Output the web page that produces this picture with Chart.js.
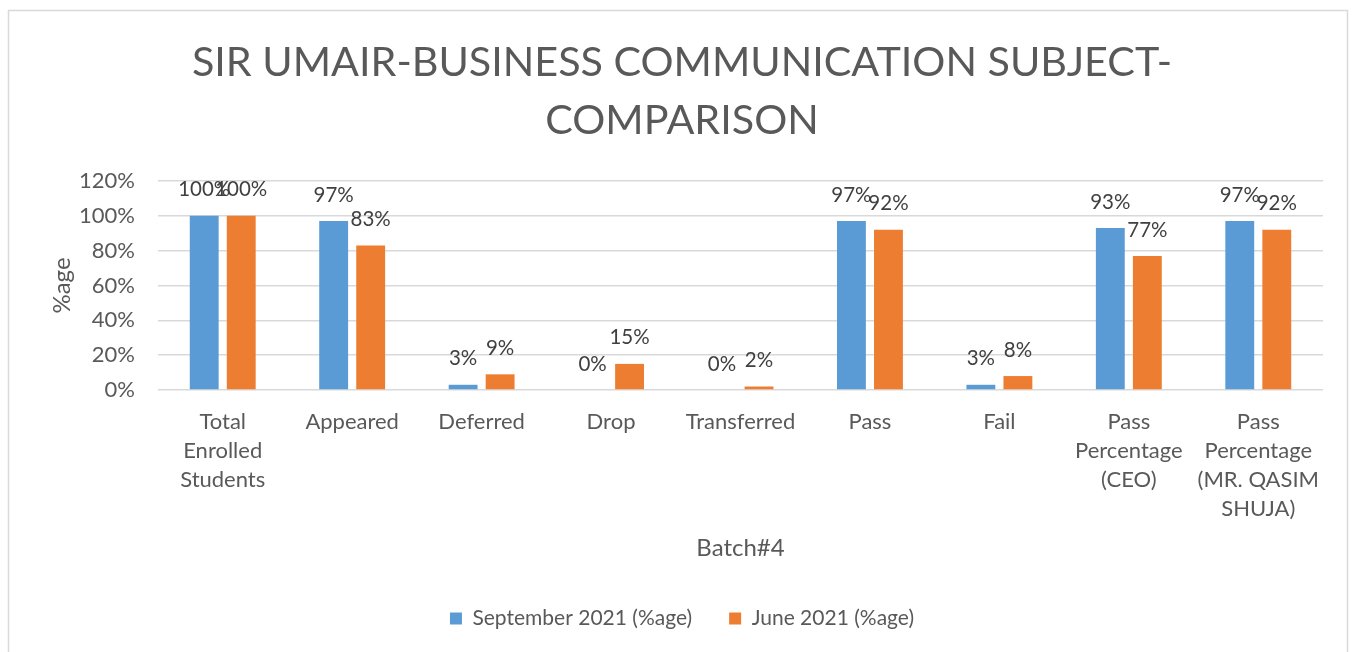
<!DOCTYPE html>
<html>
<head>
<meta charset="utf-8">
<script src="https://cdn.jsdelivr.net/npm/chart.js@4/dist/chart.umd.min.js"></script>
<style>
html,body{margin:0;padding:0;background:#fff;}
canvas{display:block;}
</style>
</head>
<body>
<canvas id="c" width="1356" height="652"></canvas>
<script>
const categories = [
  ['Total', 'Enrolled', 'Students'],
  'Appeared',
  'Deferred',
  'Drop',
  'Transferred',
  'Pass',
  'Fail',
  ['Pass', 'Percentage', '(CEO)'],
  ['Pass', 'Percentage', '(MR. QASIM', 'SHUJA)']
];
const september2021 = [100, 97, 3, 0, 0, 97, 3, 93, 97];
const june2021 = [100, 83, 9, 15, 2, 92, 8, 77, 92];
const seriesNames = ['September 2021 (%age)', 'June 2021 (%age)'];
const titleLines = ['SIR UMAIR-BUSINESS COMMUNICATION SUBJECT-', 'COMPARISON'];
const yAxisTitle = '%age';
const xAxisTitle = 'Batch#4';
const yMax = 120, yStep = 20;

const FONT = 'Lato, "Open Sans", sans-serif';
const GREY = '#595959';

const frame = {
  id: 'frame',
  beforeDraw(chart) {
    const ctx = chart.ctx;
    ctx.save();
    ctx.fillStyle = '#fff';
    ctx.fillRect(0, 0, chart.width, chart.height);
    ctx.strokeStyle = '#d9d9d9';
    ctx.lineWidth = 1.5;
    ctx.strokeRect(8.5, 10.5, 1339, 700);
    ctx.restore();
  }
};

const valueLabels = {
  id: 'valueLabels',
  afterDatasetsDraw(chart) {
    const ctx = chart.ctx;
    ctx.save();
    ctx.font = '20.5px ' + FONT;
    ctx.fillStyle = '#404040';
    ctx.textAlign = 'center';
    ctx.textBaseline = 'middle';
    chart.data.datasets.forEach((ds, i) => {
      const meta = chart.getDatasetMeta(i);
      meta.data.forEach((bar, j) => {
        ctx.fillText(ds.data[j] + '%', bar.x, bar.y - 26);
      });
    });
    ctx.restore();
  }
};

new Chart(document.getElementById('c'), {
  type: 'bar',
  data: {
    labels: categories,
    datasets: [
      { label: seriesNames[0], data: september2021, backgroundColor: '#5B9BD5', borderWidth: 0 },
      { label: seriesNames[1], data: june2021, backgroundColor: '#ED7D31', borderWidth: 0 }
    ]
  },
  options: {
    responsive: false,
    animation: false,
    categoryPercentage: 0.572,
    barPercentage: 0.78,
    layout: { padding: { left: 41, right: 33, top: 0, bottom: 13 } },
    plugins: {
      title: {
        display: true,
        text: titleLines,
        color: GREY,
        font: { family: FONT, size: 41.3, weight: 'normal', lineHeight: 58 / 41.3 },
        padding: { top: 34, bottom: 31 }
      },
      legend: {
        position: 'bottom',
        labels: {
          color: GREY,
          font: { family: FONT, size: 21 },
          boxWidth: 12,
          boxHeight: 12,
          padding: 37
        }
      },
      tooltip: { enabled: false }
    },
    scales: {
      x: {
        grid: { display: false, drawTicks: false },
        border: { display: false },
        ticks: {
          color: GREY,
          font: { family: FONT, size: 22, lineHeight: 29 / 22 },
          padding: 17.5,
          maxRotation: 0,
          autoSkip: false
        },
        title: {
          display: true,
          text: xAxisTitle,
          color: GREY,
          font: { family: FONT, size: 24 },
          padding: { top: 0, bottom: 8.6 }
        },
        afterFit(s) { s.height = 181; }
      },
      y: {
        min: 0,
        max: yMax,
        grid: { color: '#d9d9d9', lineWidth: 1.5, drawTicks: false },
        border: { display: false },
        ticks: {
          stepSize: yStep,
          color: GREY,
          font: { family: FONT, size: 22 },
          padding: 23,
          callback: v => v + '%'
        },
        title: {
          display: true,
          text: yAxisTitle,
          color: GREY,
          font: { family: FONT, size: 24 },
          padding: { top: 6.6, bottom: 0 }
        },
        afterFit(s) { s.width = 117; }
      }
    }
  },
  plugins: [frame, valueLabels]
});
</script>
</body>
</html>
